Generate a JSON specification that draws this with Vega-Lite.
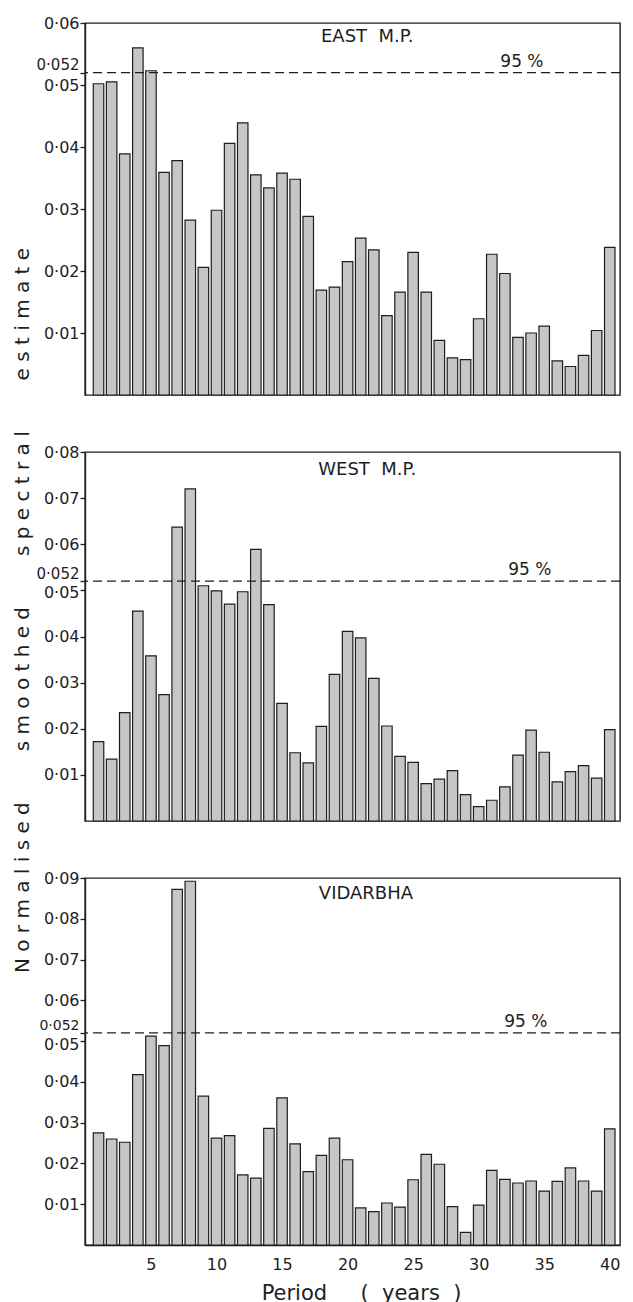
{
  "$schema": "https://vega.github.io/schema/vega-lite/v6.json",
  "background": "white",
  "padding": {"left": 11, "top": 14, "right": 5, "bottom": 2},
  "bounds": "flush",
  "spacing": 57,
  "data": {"values": [
    {"region": "East M.P.", "period": 1, "value": 0.0502},
    {"region": "East M.P.", "period": 2, "value": 0.0505},
    {"region": "East M.P.", "period": 3, "value": 0.0389},
    {"region": "East M.P.", "period": 4, "value": 0.0560},
    {"region": "East M.P.", "period": 5, "value": 0.0523},
    {"region": "East M.P.", "period": 6, "value": 0.0359},
    {"region": "East M.P.", "period": 7, "value": 0.0378},
    {"region": "East M.P.", "period": 8, "value": 0.0282},
    {"region": "East M.P.", "period": 9, "value": 0.0206},
    {"region": "East M.P.", "period": 10, "value": 0.0298},
    {"region": "East M.P.", "period": 11, "value": 0.0406},
    {"region": "East M.P.", "period": 12, "value": 0.0439},
    {"region": "East M.P.", "period": 13, "value": 0.0355},
    {"region": "East M.P.", "period": 14, "value": 0.0334},
    {"region": "East M.P.", "period": 15, "value": 0.0358},
    {"region": "East M.P.", "period": 16, "value": 0.0348},
    {"region": "East M.P.", "period": 17, "value": 0.0288},
    {"region": "East M.P.", "period": 18, "value": 0.0169},
    {"region": "East M.P.", "period": 19, "value": 0.0174},
    {"region": "East M.P.", "period": 20, "value": 0.0215},
    {"region": "East M.P.", "period": 21, "value": 0.0253},
    {"region": "East M.P.", "period": 22, "value": 0.0234},
    {"region": "East M.P.", "period": 23, "value": 0.0128},
    {"region": "East M.P.", "period": 24, "value": 0.0166},
    {"region": "East M.P.", "period": 25, "value": 0.0230},
    {"region": "East M.P.", "period": 26, "value": 0.0166},
    {"region": "East M.P.", "period": 27, "value": 0.0088},
    {"region": "East M.P.", "period": 28, "value": 0.0060},
    {"region": "East M.P.", "period": 29, "value": 0.0057},
    {"region": "East M.P.", "period": 30, "value": 0.0123},
    {"region": "East M.P.", "period": 31, "value": 0.0227},
    {"region": "East M.P.", "period": 32, "value": 0.0196},
    {"region": "East M.P.", "period": 33, "value": 0.0093},
    {"region": "East M.P.", "period": 34, "value": 0.0100},
    {"region": "East M.P.", "period": 35, "value": 0.0111},
    {"region": "East M.P.", "period": 36, "value": 0.0055},
    {"region": "East M.P.", "period": 37, "value": 0.0046},
    {"region": "East M.P.", "period": 38, "value": 0.0064},
    {"region": "East M.P.", "period": 39, "value": 0.0104},
    {"region": "East M.P.", "period": 40, "value": 0.0238},
    {"region": "West M.P.", "period": 1, "value": 0.0172},
    {"region": "West M.P.", "period": 2, "value": 0.0134},
    {"region": "West M.P.", "period": 3, "value": 0.0235},
    {"region": "West M.P.", "period": 4, "value": 0.0455},
    {"region": "West M.P.", "period": 5, "value": 0.0358},
    {"region": "West M.P.", "period": 6, "value": 0.0274},
    {"region": "West M.P.", "period": 7, "value": 0.0637},
    {"region": "West M.P.", "period": 8, "value": 0.0720},
    {"region": "West M.P.", "period": 9, "value": 0.0510},
    {"region": "West M.P.", "period": 10, "value": 0.0499},
    {"region": "West M.P.", "period": 11, "value": 0.0470},
    {"region": "West M.P.", "period": 12, "value": 0.0497},
    {"region": "West M.P.", "period": 13, "value": 0.0589},
    {"region": "West M.P.", "period": 14, "value": 0.0469},
    {"region": "West M.P.", "period": 15, "value": 0.0255},
    {"region": "West M.P.", "period": 16, "value": 0.0148},
    {"region": "West M.P.", "period": 17, "value": 0.0126},
    {"region": "West M.P.", "period": 18, "value": 0.0205},
    {"region": "West M.P.", "period": 19, "value": 0.0318},
    {"region": "West M.P.", "period": 20, "value": 0.0411},
    {"region": "West M.P.", "period": 21, "value": 0.0397},
    {"region": "West M.P.", "period": 22, "value": 0.0309},
    {"region": "West M.P.", "period": 23, "value": 0.0206},
    {"region": "West M.P.", "period": 24, "value": 0.0140},
    {"region": "West M.P.", "period": 25, "value": 0.0127},
    {"region": "West M.P.", "period": 26, "value": 0.0081},
    {"region": "West M.P.", "period": 27, "value": 0.0091},
    {"region": "West M.P.", "period": 28, "value": 0.0109},
    {"region": "West M.P.", "period": 29, "value": 0.0057},
    {"region": "West M.P.", "period": 30, "value": 0.0031},
    {"region": "West M.P.", "period": 31, "value": 0.0045},
    {"region": "West M.P.", "period": 32, "value": 0.0074},
    {"region": "West M.P.", "period": 33, "value": 0.0143},
    {"region": "West M.P.", "period": 34, "value": 0.0197},
    {"region": "West M.P.", "period": 35, "value": 0.0149},
    {"region": "West M.P.", "period": 36, "value": 0.0085},
    {"region": "West M.P.", "period": 37, "value": 0.0107},
    {"region": "West M.P.", "period": 38, "value": 0.0120},
    {"region": "West M.P.", "period": 39, "value": 0.0093},
    {"region": "West M.P.", "period": 40, "value": 0.0198},
    {"region": "Vidarbha", "period": 1, "value": 0.0275},
    {"region": "Vidarbha", "period": 2, "value": 0.0260},
    {"region": "Vidarbha", "period": 3, "value": 0.0252},
    {"region": "Vidarbha", "period": 4, "value": 0.0418},
    {"region": "Vidarbha", "period": 5, "value": 0.0512},
    {"region": "Vidarbha", "period": 6, "value": 0.0489},
    {"region": "Vidarbha", "period": 7, "value": 0.0872},
    {"region": "Vidarbha", "period": 8, "value": 0.0892},
    {"region": "Vidarbha", "period": 9, "value": 0.0365},
    {"region": "Vidarbha", "period": 10, "value": 0.0262},
    {"region": "Vidarbha", "period": 11, "value": 0.0268},
    {"region": "Vidarbha", "period": 12, "value": 0.0172},
    {"region": "Vidarbha", "period": 13, "value": 0.0164},
    {"region": "Vidarbha", "period": 14, "value": 0.0286},
    {"region": "Vidarbha", "period": 15, "value": 0.0361},
    {"region": "Vidarbha", "period": 16, "value": 0.0248},
    {"region": "Vidarbha", "period": 17, "value": 0.0180},
    {"region": "Vidarbha", "period": 18, "value": 0.0220},
    {"region": "Vidarbha", "period": 19, "value": 0.0262},
    {"region": "Vidarbha", "period": 20, "value": 0.0209},
    {"region": "Vidarbha", "period": 21, "value": 0.0091},
    {"region": "Vidarbha", "period": 22, "value": 0.0082},
    {"region": "Vidarbha", "period": 23, "value": 0.0103},
    {"region": "Vidarbha", "period": 24, "value": 0.0093},
    {"region": "Vidarbha", "period": 25, "value": 0.0160},
    {"region": "Vidarbha", "period": 26, "value": 0.0222},
    {"region": "Vidarbha", "period": 27, "value": 0.0198},
    {"region": "Vidarbha", "period": 28, "value": 0.0094},
    {"region": "Vidarbha", "period": 29, "value": 0.0031},
    {"region": "Vidarbha", "period": 30, "value": 0.0098},
    {"region": "Vidarbha", "period": 31, "value": 0.0183},
    {"region": "Vidarbha", "period": 32, "value": 0.0161},
    {"region": "Vidarbha", "period": 33, "value": 0.0152},
    {"region": "Vidarbha", "period": 34, "value": 0.0157},
    {"region": "Vidarbha", "period": 35, "value": 0.0132},
    {"region": "Vidarbha", "period": 36, "value": 0.0156},
    {"region": "Vidarbha", "period": 37, "value": 0.0189},
    {"region": "Vidarbha", "period": 38, "value": 0.0157},
    {"region": "Vidarbha", "period": 39, "value": 0.0132},
    {"region": "Vidarbha", "period": 40, "value": 0.0285}
  ]},
  "vconcat": [
    {
      "width": 535, "height": 372,
      "layer": [
        {
          "transform": [{"filter": "datum.region === 'East M.P.'"}],
          "mark": {"type": "bar", "size": 10.5, "fill": "#c6c6c6", "stroke": "#1e1e1e", "strokeWidth": 1.2},
          "encoding": {
            "x": {"field": "period", "type": "quantitative", "scale": {"domain": [0.35, 40.4], "nice": false, "zero": false}, "axis": null},
            "y": {"field": "value", "type": "quantitative", "scale": {"domain": [0, 0.06], "nice": false},
              "axis": {"values": [0.01, 0.02, 0.03, 0.04, 0.05, 0.052, 0.06], "title": null,
                "labelExpr": "replace(format(datum.value, datum.value == 0.052 ? '.3f' : '.2f'), '.', '·')",
                "labelFontSize": {"condition": {"test": "datum.value == 0.052", "value": 15}, "value": 16},
                "labelBaseline": {"condition": {"test": "datum.value == 0.052", "value": "bottom"}, "value": "middle"}}}
          }
        },
        {
          "data": {"values": [{}]},
          "mark": {"type": "rule", "strokeDash": [9, 5], "stroke": "#1e1e1e", "strokeWidth": 1.3},
          "encoding": {"y": {"datum": 0.052, "type": "quantitative"}}
        },
        {
          "data": {"values": [{}]},
          "mark": {"type": "text", "fontSize": 18, "baseline": "middle", "align": "center", "color": "#1e1e1e"},
          "encoding": {"x": {"datum": 21.5, "type": "quantitative"}, "y": {"datum": 0.0577, "type": "quantitative"}, "text": {"value": "EAST\u00a0\u00a0M.P."}}
        },
        {
          "data": {"values": [{}]},
          "mark": {"type": "text", "fontSize": 17, "baseline": "bottom", "align": "center", "dy": -2, "color": "#1e1e1e"},
          "encoding": {"x": {"datum": 33.3, "type": "quantitative"}, "y": {"datum": 0.052, "type": "quantitative"}, "text": {"value": "95\u00a0%"}}
        }
      ]
    },
    {
      "width": 535, "height": 369,
      "layer": [
        {
          "transform": [{"filter": "datum.region === 'West M.P.'"}],
          "mark": {"type": "bar", "size": 10.5, "fill": "#c6c6c6", "stroke": "#1e1e1e", "strokeWidth": 1.2},
          "encoding": {
            "x": {"field": "period", "type": "quantitative", "scale": {"domain": [0.35, 40.4], "nice": false, "zero": false}, "axis": null},
            "y": {"field": "value", "type": "quantitative", "scale": {"domain": [0, 0.08], "nice": false},
              "axis": {"values": [0.01, 0.02, 0.03, 0.04, 0.05, 0.052, 0.06, 0.07, 0.08],
                "title": "N\u00a0o\u00a0r\u00a0m\u00a0a\u00a0l\u00a0i\u00a0s\u00a0e\u00a0d\u00a0\u00a0\u00a0\u00a0\u00a0\u00a0\u00a0\u00a0s\u00a0m\u00a0o\u00a0o\u00a0t\u00a0h\u00a0e\u00a0d\u00a0\u00a0\u00a0\u00a0\u00a0\u00a0\u00a0\u00a0s\u00a0p\u00a0e\u00a0c\u00a0t\u00a0r\u00a0a\u00a0l\u00a0\u00a0\u00a0\u00a0\u00a0\u00a0\u00a0\u00a0e\u00a0s\u00a0t\u00a0i\u00a0m\u00a0a\u00a0t\u00a0e",
                "titleFontSize": 20, "titleX": -57, "titleY": 158, "titleBaseline": "alphabetic", "titleAngle": 270, "titleAlign": "center",
                "labelExpr": "replace(format(datum.value, datum.value == 0.052 ? '.3f' : '.2f'), '.', '·')",
                "labelFontSize": {"condition": {"test": "datum.value == 0.052", "value": 15}, "value": 16},
                "labelOffset": {"condition": {"test": "datum.value == 0.05", "value": 2}, "value": 0},
                "labelBaseline": {"condition": {"test": "datum.value == 0.052", "value": "bottom"}, "value": "middle"}}}
          }
        },
        {
          "data": {"values": [{}]},
          "mark": {"type": "rule", "strokeDash": [9, 5], "stroke": "#1e1e1e", "strokeWidth": 1.3},
          "encoding": {"y": {"datum": 0.052, "type": "quantitative"}}
        },
        {
          "data": {"values": [{}]},
          "mark": {"type": "text", "fontSize": 18, "baseline": "middle", "align": "center", "color": "#1e1e1e"},
          "encoding": {"x": {"datum": 21.5, "type": "quantitative"}, "y": {"datum": 0.0761, "type": "quantitative"}, "text": {"value": "WEST\u00a0\u00a0M.P."}}
        },
        {
          "data": {"values": [{}]},
          "mark": {"type": "text", "fontSize": 17, "baseline": "bottom", "align": "center", "dy": -2, "color": "#1e1e1e"},
          "encoding": {"x": {"datum": 33.9, "type": "quantitative"}, "y": {"datum": 0.052, "type": "quantitative"}, "text": {"value": "95\u00a0%"}}
        }
      ]
    },
    {
      "width": 535, "height": 367,
      "layer": [
        {
          "transform": [{"filter": "datum.region === 'Vidarbha'"}],
          "mark": {"type": "bar", "size": 10.5, "fill": "#c6c6c6", "stroke": "#1e1e1e", "strokeWidth": 1.2},
          "encoding": {
            "x": {"field": "period", "type": "quantitative", "scale": {"domain": [0.35, 40.4], "nice": false, "zero": false},
              "axis": {"values": [5, 10, 15, 20, 25, 30, 35, 40], "ticks": false, "labelFontSize": 16, "labelPadding": 11, "labelFlush": false,
                "title": "Period\u00a0\u00a0\u00a0\u00a0\u00a0(\u00a0\u00a0years\u00a0\u00a0)", "titleFontSize": 21, "titlePadding": 10, "titleX": 276, "titleAlign": "center"}},
            "y": {"field": "value", "type": "quantitative", "scale": {"domain": [0, 0.09], "nice": false},
              "axis": {"values": [0.01, 0.02, 0.03, 0.04, 0.05, 0.052, 0.06, 0.07, 0.08, 0.09], "title": null,
                "labelExpr": "replace(format(datum.value, datum.value == 0.052 ? '.3f' : '.2f'), '.', '·')",
                "labelFontSize": {"condition": {"test": "datum.value == 0.052", "value": 14}, "value": 16},
                "labelOffset": {"condition": {"test": "datum.value == 0.05", "value": 3}, "value": 0},
                "labelBaseline": {"condition": {"test": "datum.value == 0.052", "value": "bottom"}, "value": "middle"}}}
          }
        },
        {
          "data": {"values": [{}]},
          "mark": {"type": "rule", "strokeDash": [9, 5], "stroke": "#1e1e1e", "strokeWidth": 1.3},
          "encoding": {"y": {"datum": 0.052, "type": "quantitative"}}
        },
        {
          "data": {"values": [{}]},
          "mark": {"type": "text", "fontSize": 18, "baseline": "middle", "align": "center", "color": "#1e1e1e"},
          "encoding": {"x": {"datum": 21.4, "type": "quantitative"}, "y": {"datum": 0.0861, "type": "quantitative"}, "text": {"value": "VIDARBHA"}}
        },
        {
          "data": {"values": [{}]},
          "mark": {"type": "text", "fontSize": 17, "baseline": "bottom", "align": "center", "dy": -2, "color": "#1e1e1e"},
          "encoding": {"x": {"datum": 33.6, "type": "quantitative"}, "y": {"datum": 0.052, "type": "quantitative"}, "text": {"value": "95\u00a0%"}}
        }
      ]
    }
  ],
  "config": {
    "font": "DejaVu Sans",
    "view": {"stroke": "#1e1e1e", "strokeWidth": 1.4},
    "axis": {"domainColor": "#1e1e1e", "domainWidth": 1.4, "tickColor": "#1e1e1e", "tickWidth": 1.3, "tickSize": 5,
      "labelColor": "#1e1e1e", "titleColor": "#1e1e1e", "labelFont": "DejaVu Sans", "titleFont": "DejaVu Sans",
      "titleFontWeight": "normal", "labelFontSize": 16, "labelPadding": 1, "labelOverlap": false, "labelFlush": false, "grid": false}
  }
}
